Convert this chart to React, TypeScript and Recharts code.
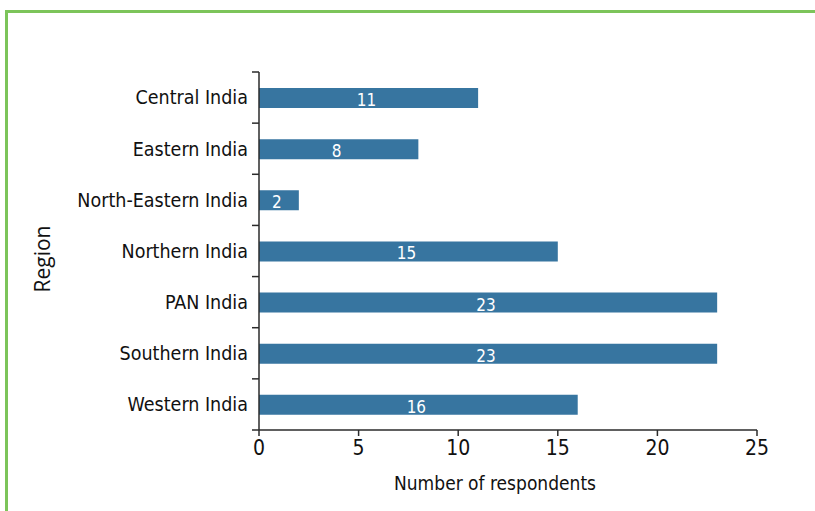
import { BarChart, Bar, XAxis, YAxis, LabelList, Label } from 'recharts';

const regions = [
  'Central India',
  'Eastern India',
  'North-Eastern India',
  'Northern India',
  'PAN India',
  'Southern India',
  'Western India',
];
const respondents = [11, 8, 2, 15, 23, 23, 16];
const xTicks = [0, 5, 10, 15, 20, 25];

const data = regions.map((region, i) => ({ region, count: respondents[i] }));

const FONT = '"DejaVu Sans Condensed", "Liberation Sans Narrow", sans-serif';
const AXIS = '#2b2b2b';
const BAR = '#3775a0';

const W = 815;
const H = 511;
const MARGIN = { top: 72, right: 58, bottom: 21, left: 0 };
const X_AXIS_H = 60;
const TICK_SIZE = 7;
const TICK_GAP = 4;
const band = (H - MARGIN.top - MARGIN.bottom - X_AXIS_H) / regions.length;

// category label plus outward ticks on the band edges (above each band, and below the last)
const RegionTick = (props: any) => {
  const { x, y, payload, index } = props;
  const x1 = x + TICK_GAP;
  const x2 = x1 + TICK_SIZE;
  return (
    <g>
      <line x1={x1} x2={x2} y1={y - band / 2} y2={y - band / 2} stroke={AXIS} strokeWidth={1.5} />
      {index === regions.length - 1 && (
        <line x1={x1} x2={x2} y1={y + band / 2} y2={y + band / 2} stroke={AXIS} strokeWidth={1.5} />
      )}
      <text x={x} y={y} dy="0.35em" textAnchor="end" fill="#111" fontSize={19.5} fontFamily={FONT}>
        {payload.value}
      </text>
    </g>
  );
};

const BarValue = (props: any) => {
  const { x, y, width, height, value } = props;
  return (
    <text
      x={x + width / 2 - 2}
      y={y + height - 2}
      textAnchor="middle"
      fill="#fff"
      fontSize={17}
      fontFamily={FONT}
    >
      {value}
    </text>
  );
};

export default function App() {
  return (
    <div style={{ position: 'absolute', left: 0, top: 0, width: W, height: H, overflow: 'hidden', background: '#fff' }}>
      <div
        style={{
          position: 'absolute',
          left: 5,
          top: 10,
          width: 900,
          height: 600,
          borderTop: '3px solid #7cc45a',
          borderLeft: '3px solid #7cc45a',
        }}
      />
      <div style={{ position: 'absolute', left: 0, top: 0 }}>
        <BarChart width={W} height={H} data={data} layout="vertical" margin={MARGIN}>
          <XAxis
            type="number"
            domain={[0, 25]}
            ticks={xTicks}
            tickSize={6}
            tickMargin={4}
            stroke={AXIS}
            strokeWidth={1.5}
            tick={{ fill: '#111', fontSize: 21, fontFamily: FONT }}
            height={X_AXIS_H}
          >
            <Label
              content={(p: any) => {
                const vb = p.viewBox;
                return (
                  <text
                    x={vb.x + vb.width / 2 - 13}
                    y={vb.y + 60}
                    textAnchor="middle"
                    fill="#111"
                    fontSize={19}
                    fontFamily={FONT}
                  >
                    Number of respondents
                  </text>
                );
              }}
            />
          </XAxis>
          <YAxis
            type="category"
            dataKey="region"
            width={259}
            stroke={AXIS}
            strokeWidth={1.5}
            tickLine={false}
            tickSize={TICK_SIZE}
            tickMargin={TICK_GAP}
            tick={RegionTick}
          >
            <Label
              content={(p: any) => {
                const vb = p.viewBox;
                const cy = vb.y + vb.height / 2 + 8;
                return (
                  <text
                    x={42}
                    y={cy}
                    transform={`rotate(-90, 42, ${cy})`}
                    textAnchor="middle"
                    dominantBaseline="central"
                    fill="#111"
                    fontSize={21}
                    fontFamily='"Open Sans", sans-serif'
                  >
                    Region
                  </text>
                );
              }}
            />
          </YAxis>
          <Bar dataKey="count" fill={BAR} barSize={20} isAnimationActive={false}>
            <LabelList dataKey="count" content={BarValue} />
          </Bar>
        </BarChart>
      </div>
    </div>
  );
}
